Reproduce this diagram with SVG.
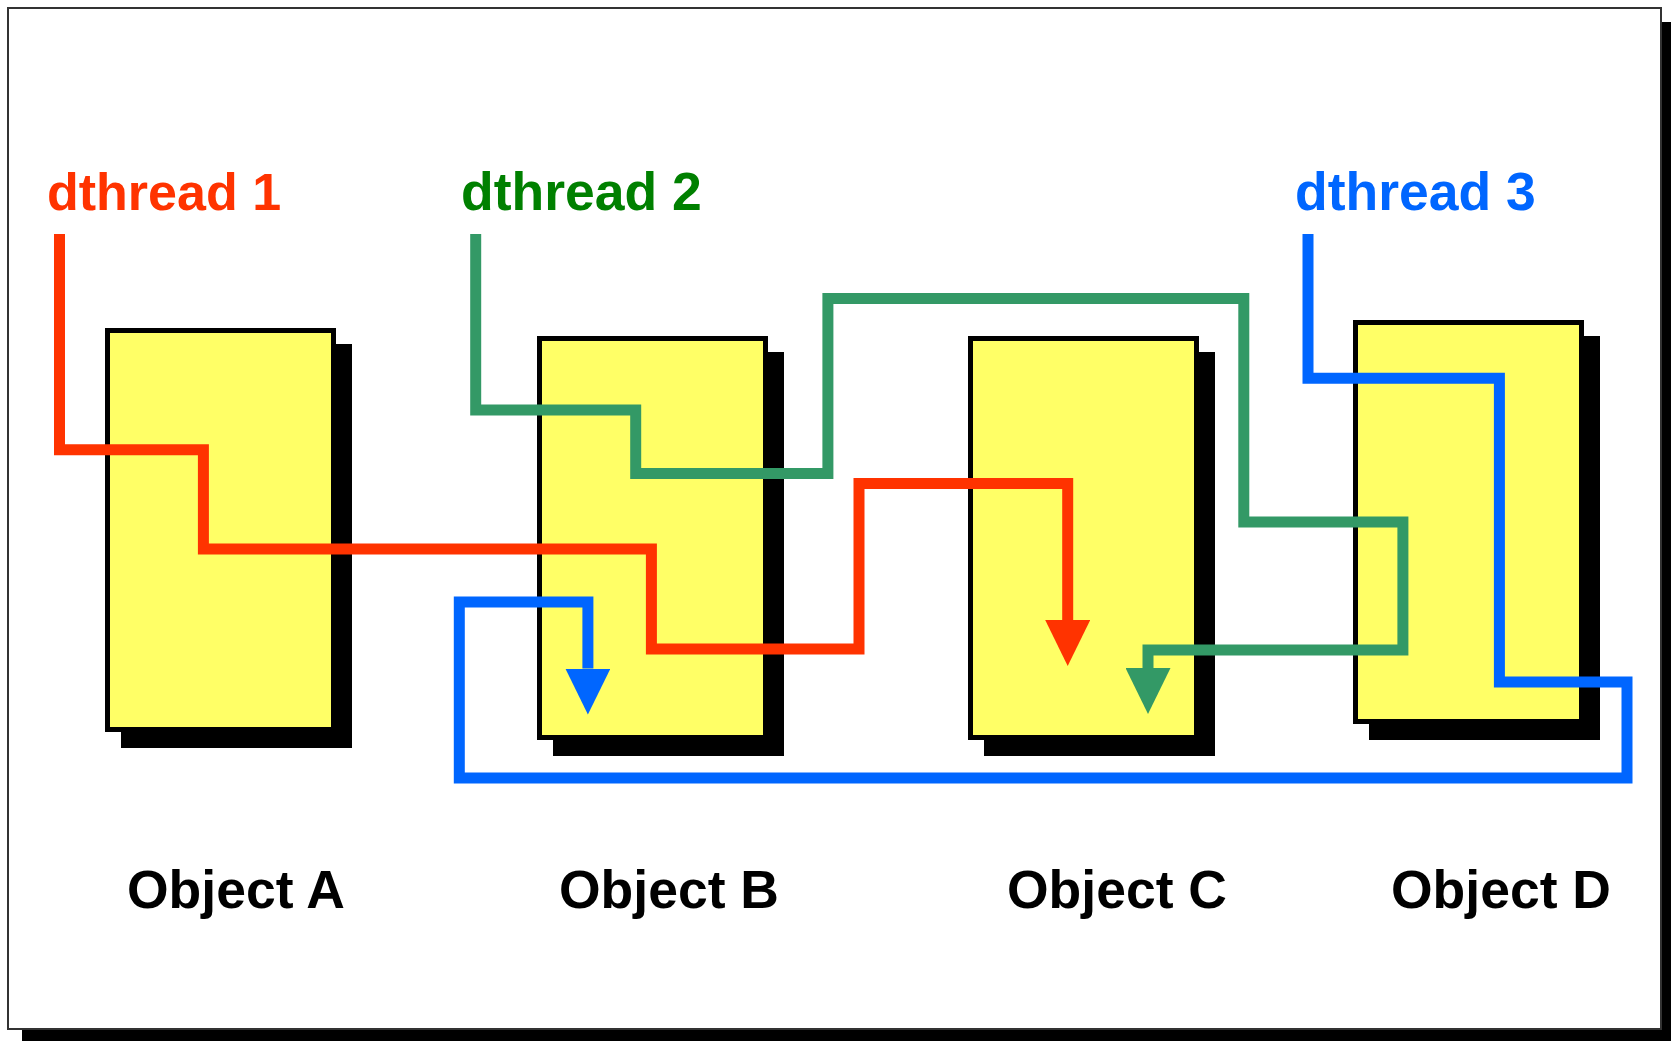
<svg xmlns="http://www.w3.org/2000/svg" width="1671" height="1041" viewBox="0 0 1671 1041">
<style>
.frame{fill:#fff;stroke:#333;stroke-width:2}
.box{fill:#FFFF66;stroke:#000;stroke-width:5}
.shadow{fill:#000}
.lbl{font-family:"Liberation Sans",Arial,sans-serif;font-weight:bold;font-size:53.5px}
.obj{fill:#000}
.wire{fill:none;stroke-width:11;stroke-linejoin:miter;stroke-linecap:butt}
</style>
<defs>
<marker id="arR" viewBox="0 0 46 45" refX="0" refY="22.5" markerWidth="46" markerHeight="45" markerUnits="userSpaceOnUse" orient="auto"><path d="M0,0 L46,22.5 L0,45 z" fill="#FF3300"/></marker>
<marker id="arG" viewBox="0 0 46 45" refX="0" refY="22.5" markerWidth="46" markerHeight="45" markerUnits="userSpaceOnUse" orient="auto"><path d="M0,0 L46,22.5 L0,45 z" fill="#339966"/></marker>
<marker id="arB" viewBox="0 0 46 45" refX="0" refY="22.5" markerWidth="46" markerHeight="45" markerUnits="userSpaceOnUse" orient="auto"><path d="M0,0 L46,22.5 L0,45 z" fill="#0066FF"/></marker>
</defs>
<rect x="22" y="22" width="1660" height="1030" class="shadow"/>
<rect x="8" y="8" width="1653" height="1021" class="frame"/>

<g id="objectA">
<rect x="121" y="344" width="231" height="404" class="shadow"/>
<rect x="107.5" y="330.5" width="226" height="399" class="box"/>
<text x="127" y="908" class="lbl obj">Object A</text>
</g>
<g id="objectB">
<rect x="553" y="352" width="231" height="404" class="shadow"/>
<rect x="539.5" y="338.5" width="226" height="399" class="box"/>
<text x="559" y="908" class="lbl obj">Object B</text>
</g>
<g id="objectC">
<rect x="984" y="352" width="231" height="404" class="shadow"/>
<rect x="970.5" y="338.5" width="226" height="399" class="box"/>
<text x="1007" y="908" class="lbl obj">Object C</text>
</g>
<g id="objectD">
<rect x="1369" y="336" width="231" height="404" class="shadow"/>
<rect x="1355.5" y="322.5" width="226" height="399" class="box"/>
<text x="1391" y="908" class="lbl obj">Object D</text>
</g>

<g id="thread1">
<text x="47" y="210" class="lbl" fill="#FF3300" style="font-size:52px">dthread 1</text>
</g>
<g id="thread2">
<text x="461" y="210" class="lbl" fill="#008000">dthread 2</text>
</g>
<g id="thread3">
<text x="1295" y="210" class="lbl" fill="#0066FF">dthread 3</text>
</g>

<g id="connectors">
<path class="wire" stroke="#FF3300" marker-end="url(#arR)" d="M59.5,234 V449.8 H203.4 V549 H651.4 V649 H859 V483.6 H1067.7 V620"/>
<path class="wire" stroke="#339966" marker-end="url(#arG)" d="M475.7,234 V410 H635.7 V473.6 H827.9 V298.6 H1243.8 V522 H1402.9 V650 H1148 V668"/>
<path class="wire" stroke="#0066FF" marker-end="url(#arB)" d="M1308,234 V378.3 H1499.4 V682 H1627 V778 H459.3 V602 H587.9 V668.6"/>
</g>
</svg>
